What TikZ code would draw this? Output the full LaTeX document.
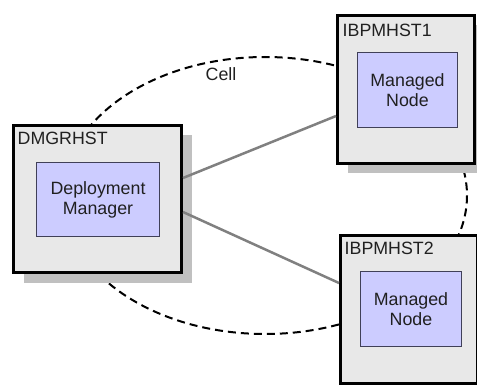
\documentclass[tikz,border=0pt]{standalone}
\usepackage{fontspec}
\setmainfont{Liberation Sans}
\usetikzlibrary{shadows,backgrounds}

\definecolor{hostfill}{HTML}{E8E8E8}
\definecolor{hostshadow}{HTML}{C0C0C0}
\definecolor{procfill}{HTML}{CCCCFF}
\definecolor{procline}{HTML}{404058}
\definecolor{linkgray}{HTML}{808080}
\definecolor{textgray}{HTML}{202020}

\tikzset{
	hostbox/.style={draw=black, line width=3pt, fill=hostfill, inner sep=0pt,
		drop shadow={shadow xshift=10pt, shadow yshift=-10pt, fill=hostshadow, opacity=1}},
	procbox/.style={draw=procline, line width=1.2pt, fill=procfill, align=center,
		font=\fontsize{17.8}{20}\selectfont, text=textgray, inner sep=0pt},
	hostlabel/.style={anchor=base west, inner sep=0pt, font=\fontsize{17.8}{20}\selectfont, text=textgray},
	link/.style={draw=linkgray, line width=2.5pt},
	cellline/.style={draw=black, line width=2pt, dash pattern=on 8pt off 5pt}
}

\begin{document}
\begin{tikzpicture}[x=1pt, y=-1pt]
			\useasboundingbox (0, 0) rectangle (477, 385);
			\clip (0, 0) rectangle (477, 385);

			% Hosts
			\node[hostbox, minimum width=168pt, minimum height=147pt] (dmgrhst) at (97.5, 199) {};
			\node[hostbox, minimum width=137pt, minimum height=148pt] (ibpmhst1) at (406, 89.5) {};
			\node[hostbox, minimum width=137pt, minimum height=148pt] (ibpmhst2) at (409, 309.5) {};

			% Host labels
			\node[hostlabel] at ([shift={(5.5pt, -21pt)}]dmgrhst.north west) {DMGRHST};
			\node[hostlabel] at ([shift={(6.5pt, -22.5pt)}]ibpmhst1.north west) {IBPMHST1};
			\node[hostlabel] at ([shift={(5.5pt, -20.5pt)}]ibpmhst2.north west) {IBPMHST2};

			% Processes
			\node[procbox, minimum width=122.5pt, minimum height=73.5pt] (dmgr) at ([shift={(0.5pt, -0.5pt)}]dmgrhst.center) {Deployment\\Manager};
			\node[procbox, minimum width=99.5pt, minimum height=74.5pt] (node1) at ([shift={(1.5pt, -0.5pt)}]ibpmhst1.center) {Managed\\Node};
			\node[procbox, minimum width=100.5pt, minimum height=74.5pt] (node2) at ([shift={(2pt, 0.5pt)}]ibpmhst2.center) {Managed\\Node};

			% Cell boundary
			\begin{scope}[on background layer]
				\draw[cellline] (265, 195.5) ellipse [x radius=202, y radius=138.5];
			\end{scope}

			% Links
			\draw[link] ([yshift=21pt]dmgrhst.east) -- ([yshift=-26.5pt]ibpmhst1.west);
			\draw[link] ([yshift=-13pt]dmgrhst.east) -- ([yshift=26.5pt]ibpmhst2.west);

			% Cell label
			\node[hostlabel, anchor=center] (cell) at (221, 74) {Cell};

		\end{tikzpicture}
\end{document}
